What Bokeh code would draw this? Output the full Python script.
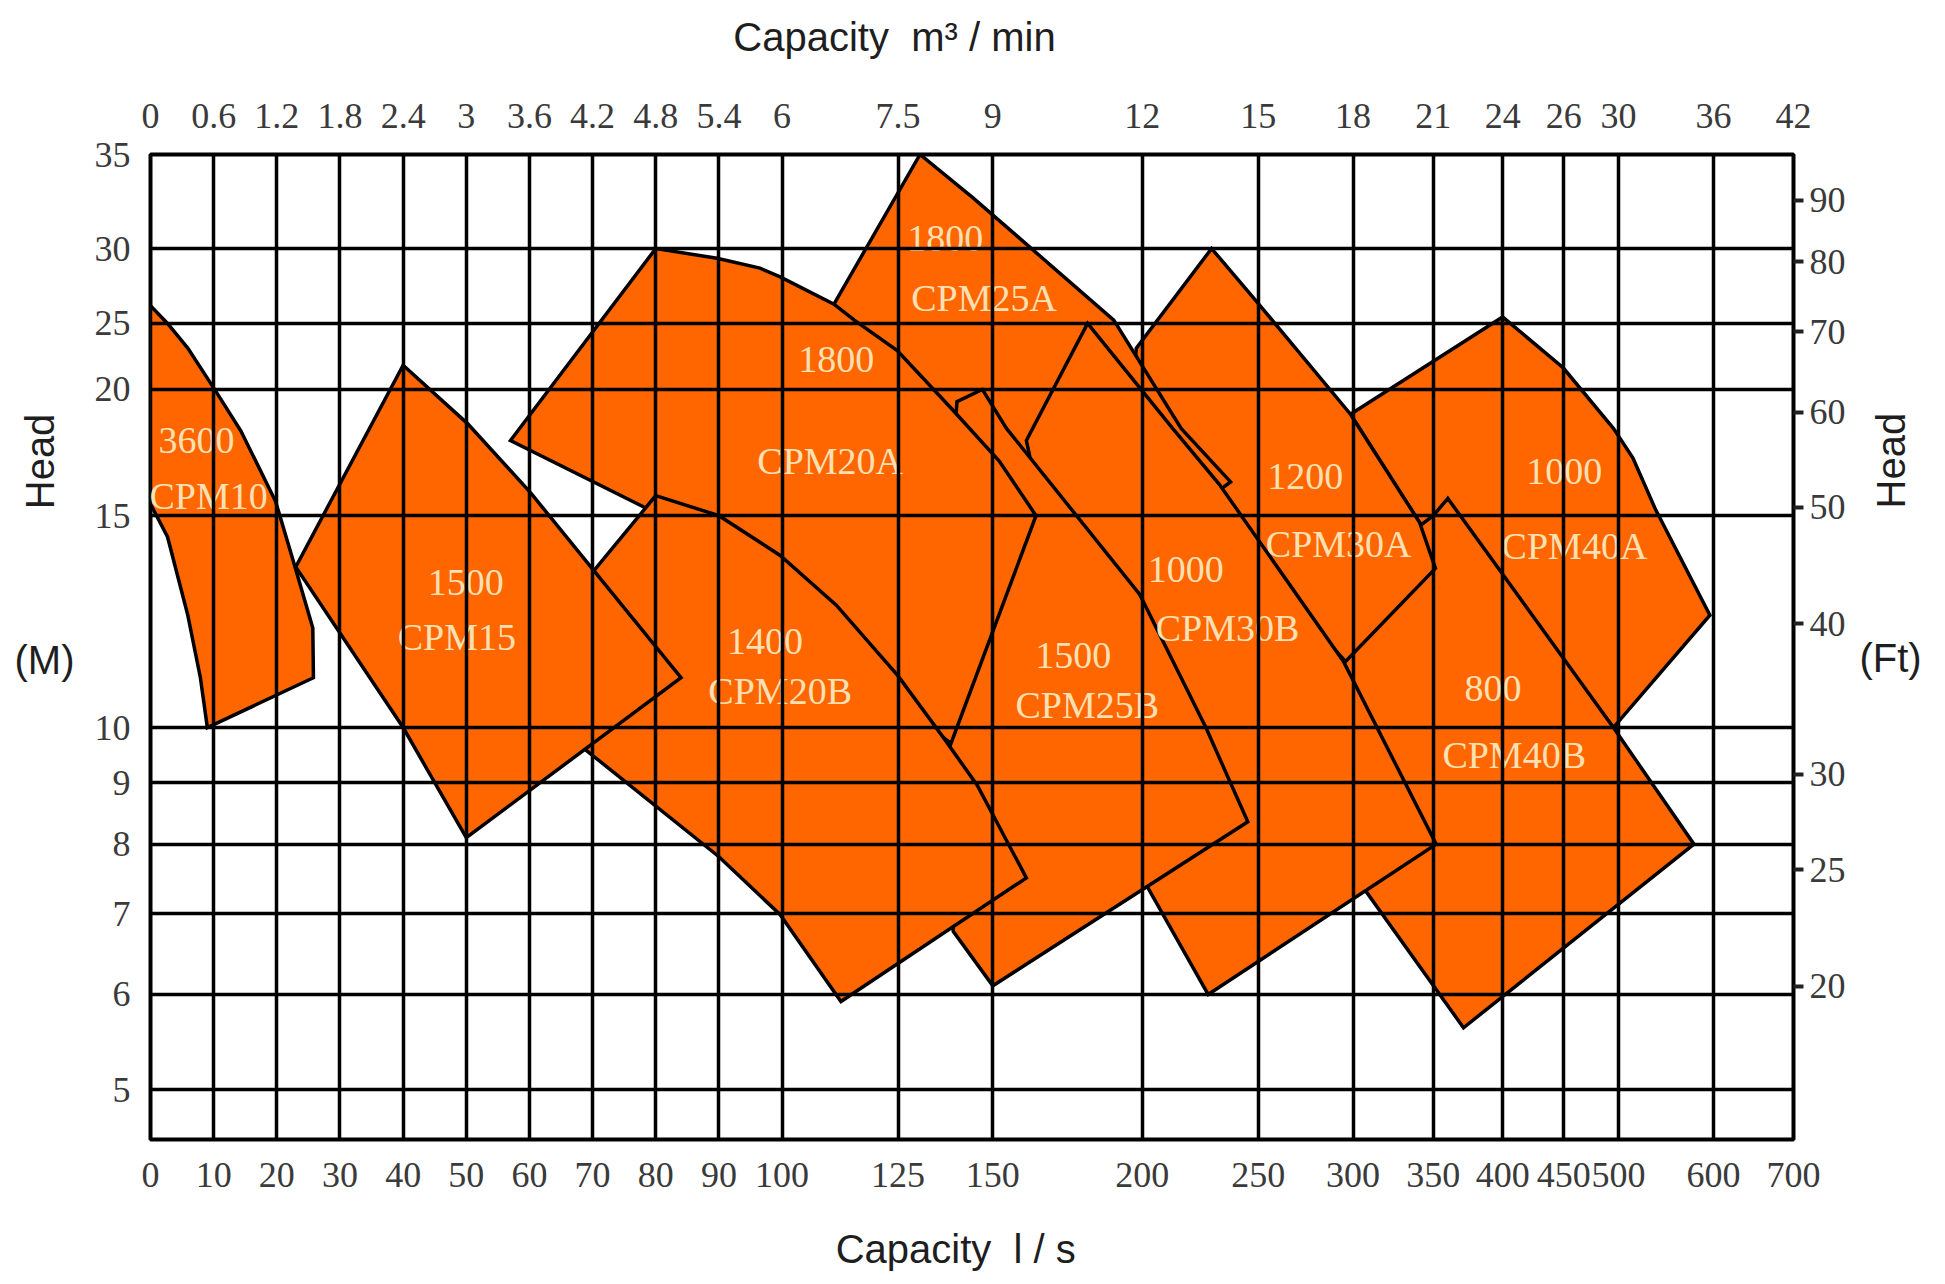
import math
import numpy as np
from bokeh.plotting import figure
from bokeh.models import (Range1d, LinearAxis, FixedTicker, CustomJSTickFormatter, LogScale)
from bokeh.core.properties import value
from bokeh.embed import file_html
from bokeh.resources import INLINE

# ---------------- axis definitions ----------------
FLOW_TICKS = [0, 10, 20, 30, 40, 50, 60, 70, 80, 90, 100,
              125, 150, 200, 250, 300, 350, 400, 450, 500, 600, 700]          # l/s
CMM_LABELS = ["0", "0.6", "1.2", "1.8", "2.4", "3", "3.6", "4.2", "4.8", "5.4", "6",
              "7.5", "9", "12", "15", "18", "21", "24", "26", "30", "36", "42"]  # m3/min
HEAD_TICKS = [5, 6, 7, 8, 9, 10, 15, 20, 25, 30, 35]                      # printed head lines (m)
HEAD_LINE_AT = [5, 6, 7, 8, 9, 10, 15, 19.10, 21.67, 25.01, 29.94]        # where each printed line sits on the log scale
FT_TICKS = [20, 25, 30, 40, 50, 60, 70, 80, 90]                            # head (ft)
HEAD_BOTTOM = 4.546
FLOW_DECADE = 189.5   # chart units per decade of flow above 100 l/s (linear below)

# ---------------- pump areas (flow l/s, head m) ----------------
CPM10_Q = [0, 2.7, 5.9, 10, 14.3, 19.8, 22.7, 25.7, 25.8, 9.0, 7.9, 5.9, 2.7, 0]
CPM10_H = [26.1, 25.0, 23.0, 20.1, 18.2, 15.5, 13.7, 12.1, 11.0, 10.0, 11.0, 12.4, 14.4, 15.4]

CPM15_Q = [40, 50.2, 60.2, 70.2, 84, 50, 40, 23]
CPM15_H = [21.7, 18.5, 15.8, 13.5, 11.0, 8.1, 10.0, 13.6]

CPM20A_Q = [57, 80, 89.7, 96.5, 99.7, 110.5, 114.9, 124.8, 138.2, 151.8, 163, 138.4, 78.1]
CPM20A_H = [17.8, 30, 29.3, 28.6, 28.0, 26.2, 25.2, 22.8, 19.2, 17.0, 15.0, 9.7, 15.3]

CPM20B_Q = [80, 90, 99.7, 111, 125, 136.6, 145.6, 160, 112, 99.7, 90, 68.6, 70.2]
CPM20B_H = [15.7, 15.0, 13.9, 12.64, 11.04, 9.79, 8.95, 7.5, 5.92, 6.99, 7.81, 9.61, 13.5]

CPM25A_Q = [110.5, 130.4, 144.4, 189.3, 215.5, 237, 232, 171.2, 171.2, 149.5, 125.7]
CPM25A_H = [26.2, 35, 32.6, 25.2, 18.3, 16.2, 15.9, 18.2, 15.5, 15.5, 20.6]

CPM25B_Q = [147, 154, 199, 226, 245, 150, 139, 136, 140]
CPM25B_H = [20.0, 18.3, 12.9, 10.0, 8.35, 6.1, 6.77, 12.3, 19.45]

CPM30A_Q = [228.5, 249, 298.5, 341, 351.5, 295.7, 247, 196, 197.7]
CPM30A_H = [30, 26.4, 18.9, 14.8, 13.56, 11.35, 13.76, 19.5, 23.0]

CPM30B_Q = [180, 212, 232, 294.5, 352, 227, 201.5, 171, 160]
CPM30B_H = [25, 18.3, 16.1, 11.35, 8.0, 6.0, 7.4, 12.75, 17.8]

CPM40A_Q = [298.5, 400, 449.6, 495, 514, 537, 596, 495, 398.7, 341]
CPM40A_H = [18.9, 25.4, 21.5, 18.3, 17.1, 15.2, 12.4, 10.0, 13.25, 14.8]

CPM40B_Q = [360, 495, 578, 371, 307.5, 317, 282.3, 271.5, 304.6, 337, 350]
CPM40B_H = [15.6, 10.0, 8.0, 5.63, 7.31, 8.69, 10.53, 11.81, 12.75, 14.58, 15.0]

# back to front
AREAS = [(CPM40A_Q, CPM40A_H), (CPM40B_Q, CPM40B_H), (CPM30A_Q, CPM30A_H),
         (CPM25A_Q, CPM25A_H), (CPM30B_Q, CPM30B_H), (CPM25B_Q, CPM25B_H),
         (CPM20A_Q, CPM20A_H), (CPM20B_Q, CPM20B_H), (CPM15_Q, CPM15_H),
         (CPM10_Q, CPM10_H)]

LABEL_TEXT = ["3600", "CPM10", "1500", "CPM15", "1800", "CPM20A", "1400", "CPM20B",
              "1800", "CPM25A", "1500", "CPM25B", "1000", "CPM30B", "1200", "CPM30A",
              "1000", "CPM40A", "800", "CPM40B"]
LABEL_Q = [7.3, 9.2, 49.9, 48.5, 111, 109.7, 97.3, 99.7, 136.9, 147.5, 175.1, 179.9,
           217.4, 235.6, 273.6, 291.8, 450.4, 459.3, 392.7, 409]
LABEL_H = [17.8, 15.7, 13.2, 11.9, 22.1, 17.0, 11.8, 10.73, 30.5, 26.6, 11.48, 10.45,
           13.53, 12.11, 16.4, 14.2, 16.6, 14.15, 10.77, 9.48]


def flow_u(q):
    q = np.asarray(q, dtype=float)
    return np.where(q <= 100, q, 100 + FLOW_DECADE * np.log10(np.maximum(q, 1e-9) / 100.0))


def head_u(h):
    h = np.asarray(h, dtype=float)
    return np.exp(np.interp(np.log(h), np.log(HEAD_TICKS), np.log(HEAD_LINE_AT)))


NEAREST = """
let best = 0;
for (let i = 0; i < vals.length; i++) {
  if (Math.abs(vals[i] - tick) < Math.abs(vals[best] - tick)) { best = i; }
}
return labels[best];
"""

flow_tick_u = [round(float(v), 5) for v in flow_u(FLOW_TICKS)]
x_end = flow_tick_u[-1]

p = figure(width=1938, height=1284,
           x_range=Range1d(0, x_end), y_range=Range1d(HEAD_BOTTOM, HEAD_LINE_AT[-1]),
           y_axis_type="log", output_backend="svg", toolbar_location=None,
           min_border_left=150, min_border_right=143, min_border_top=154, min_border_bottom=145)
p.background_fill_color = "white"
p.border_fill_color = "white"
p.outline_line_color = "black"
p.outline_line_width = 4

ORANGE = "#FF6600"
for q, h in AREAS:
    p.patch(flow_u(q), head_u(h), fill_color=ORANGE, fill_alpha=1.0,
            line_color="black", line_width=3.5, line_join="miter")

p.text(x=flow_u(LABEL_Q), y=head_u(LABEL_H), text=LABEL_TEXT,
       text_font=value("Liberation Serif"), text_font_size=value("38px"),
       text_color="#FBE0B4", text_align="center", text_baseline="middle")

TICK_FONT = "Liberation Serif"
TICK_SIZE = "36px"
TICK_COLOR = "#3a3a3a"

# bottom axis (l/s)
xa = p.xaxis[0]
xa.ticker = FixedTicker(ticks=flow_tick_u)
xa.formatter = CustomJSTickFormatter(args=dict(vals=flow_tick_u, labels=[str(v) for v in FLOW_TICKS]),
                                     code=NEAREST)
# top axis (m3/min)
top = LinearAxis(ticker=FixedTicker(ticks=flow_tick_u),
                 formatter=CustomJSTickFormatter(args=dict(vals=flow_tick_u, labels=CMM_LABELS),
                                                 code=NEAREST))
p.add_layout(top, "above")

# left axis (m)
ya = p.yaxis[0]
ya.ticker = FixedTicker(ticks=HEAD_LINE_AT)
ya.formatter = CustomJSTickFormatter(args=dict(vals=HEAD_LINE_AT, labels=[str(v) for v in HEAD_TICKS]),
                                     code=NEAREST)

# right axis (ft)
p.extra_y_ranges = {"ft": Range1d(HEAD_BOTTOM / 0.3048, HEAD_LINE_AT[-1] / 0.3048)}
p.extra_y_scales = {"ft": LogScale()}
right = LinearAxis(y_range_name="ft", ticker=FixedTicker(ticks=FT_TICKS))
p.add_layout(right, "right")


def plain(ax):
    ax.axis_line_color = None
    ax.minor_tick_line_color = None
    ax.major_tick_line_color = None
    ax.major_tick_in = 0
    ax.major_tick_out = 0


for ax in [xa, top, ya, right]:
    plain(ax)
    ax.major_label_text_font = TICK_FONT
    ax.major_label_text_font_size = TICK_SIZE
    ax.major_label_text_color = TICK_COLOR

xa.major_label_standoff = 23
top.major_label_standoff = 27
ya.major_label_standoff = 20
right.major_tick_line_color = "#222222"
right.major_tick_line_width = 4
right.major_tick_out = 10
right.major_label_standoff = 6

for g in [p.xgrid[0], p.ygrid[0]]:
    g.grid_line_color = "black"
    g.grid_line_width = 3.5
    g.level = "overlay"

# ---------------- axis titles (single-label guide axes) ----------------
TITLE_FONT = "Liberation Sans"
TITLE_SIZE = "40px"
TITLE_COLOR = "#1e1e1e"
NB = "\u00a0"
UP = math.pi / 2   # rotated text reading bottom-to-top (anchored at its start)
# (side, text, position along the side in chart units, standoff, orientation)
TITLES = [
    ("above", "Capacity" + NB + NB + "m³ / min", 117.8, 42, "horizontal"),
    ("below", "Capacity" + NB + NB + "l / s", 127.5, 37, "horizontal"),
    ("left", "(M)", 11.39, 17, "horizontal"),
    ("left", "Head", 16.64, -51, "vertical"),
    ("right", "(Ft)", 11.43, 11, "horizontal"),
    ("right", "Head", 15.21, -33, UP),
]
for side, txt, pos, standoff, orient in TITLES:
    ax = LinearAxis(ticker=FixedTicker(ticks=[pos]),
                    formatter=CustomJSTickFormatter(args=dict(txt=txt), code="return txt;"))
    plain(ax)
    ax.major_label_standoff = standoff
    ax.major_label_orientation = orient
    ax.major_label_text_font = TITLE_FONT
    ax.major_label_text_font_size = TITLE_SIZE
    ax.major_label_text_color = TITLE_COLOR
    p.add_layout(ax, side)

open("out.html", "w").write(file_html(p, INLINE))
